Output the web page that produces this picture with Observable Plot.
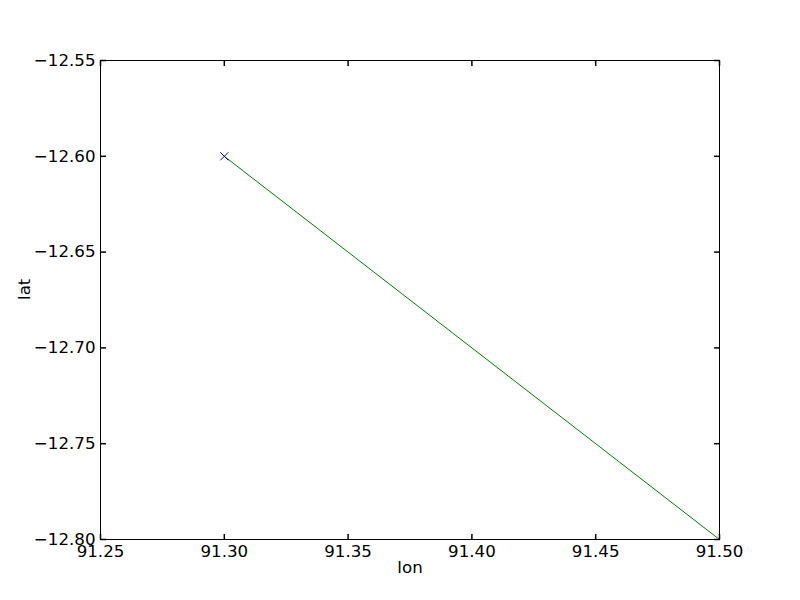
<!DOCTYPE html>
<html>
<head>
<meta charset="utf-8">
<script src="https://cdn.jsdelivr.net/npm/d3@7"></script>
<script src="https://cdn.jsdelivr.net/npm/@observablehq/plot@0.6"></script>
<style>
  html, body { margin: 0; padding: 0; background: #fff; }
  #chart svg { display: block; }
</style>
</head>
<body>
<div id="chart"></div>
<script>
// Data
const lon = [91.30, 91.50];
const lat = [-12.60, -12.80];
const markerLon = [91.30];
const markerLat = [-12.60];
const xTicks = [91.25, 91.30, 91.35, 91.40, 91.45, 91.50];
const yTicks = [-12.80, -12.75, -12.70, -12.65, -12.60, -12.55];
const xDomain = [91.25, 91.50];
const yDomain = [-12.80, -12.55];

const TL = 5.5; // tick length px
const sym = (dx, dy) => ({draw(ctx) { ctx.moveTo(0, 0); ctx.lineTo(dx, dy); }});
const tickUp = sym(0, -TL), tickDown = sym(0, TL), tickRight = sym(TL, 0), tickLeft = sym(-TL, 0);
const cross = {draw(ctx) { const h = 4; ctx.moveTo(-h, -h); ctx.lineTo(h, h); ctx.moveTo(-h, h); ctx.lineTo(h, -h); }};

const lineData = lon.map((x, i) => ({x, y: lat[i]}));
const markerData = markerLon.map((x, i) => ({x, y: markerLat[i]}));
const fmt = d3.format(".2f");

const chart = Plot.plot({
  width: 800,
  height: 600,
  marginLeft: 100,
  marginRight: 81,
  marginTop: 60,
  marginBottom: 61,
  style: {fontFamily: "DejaVu Sans", fontSize: "16.67px", background: "#fff", color: "#000", overflow: "visible"},
  x: {domain: xDomain},
  y: {domain: yDomain},
  marks: [
    Plot.line(lineData, {x: "x", y: "y", stroke: "#008000", strokeWidth: 1}),
    Plot.dot(markerData, {x: "x", y: "y", symbol: cross, stroke: "#0000ff", fill: "none", strokeWidth: 1, r: 4}),
    Plot.frame({stroke: "#000", strokeWidth: 1}),
    Plot.dot(xTicks, {x: d => d, y: () => yDomain[0], symbol: tickUp, stroke: "#000", fill: "none", r: 3}),
    Plot.dot(xTicks, {x: d => d, y: () => yDomain[1], symbol: tickDown, stroke: "#000", fill: "none", r: 3}),
    Plot.dot(yTicks, {y: d => d, x: () => xDomain[0], symbol: tickRight, stroke: "#000", fill: "none", r: 3}),
    Plot.dot(yTicks, {y: d => d, x: () => xDomain[1], symbol: tickLeft, stroke: "#000", fill: "none", r: 3}),
    Plot.axisX({ticks: xTicks, tickSize: 0, tickPadding: 6, tickFormat: fmt, label: null, fontSize: 16.67}),
    Plot.axisY({ticks: yTicks, tickSize: 0, tickPadding: 5, tickFormat: fmt, label: null, fontSize: 16.67}),
    Plot.text(["lon"], {frameAnchor: "bottom", dy: 33, text: d => d, fill: "#000", fontSize: 16.67}),
    Plot.text(["lat"], {frameAnchor: "left", dx: -76, rotate: -90, text: d => d, fill: "#000", fontSize: 16.67})
  ]
});
document.getElementById("chart").appendChild(chart);
</script>
</body>
</html>
